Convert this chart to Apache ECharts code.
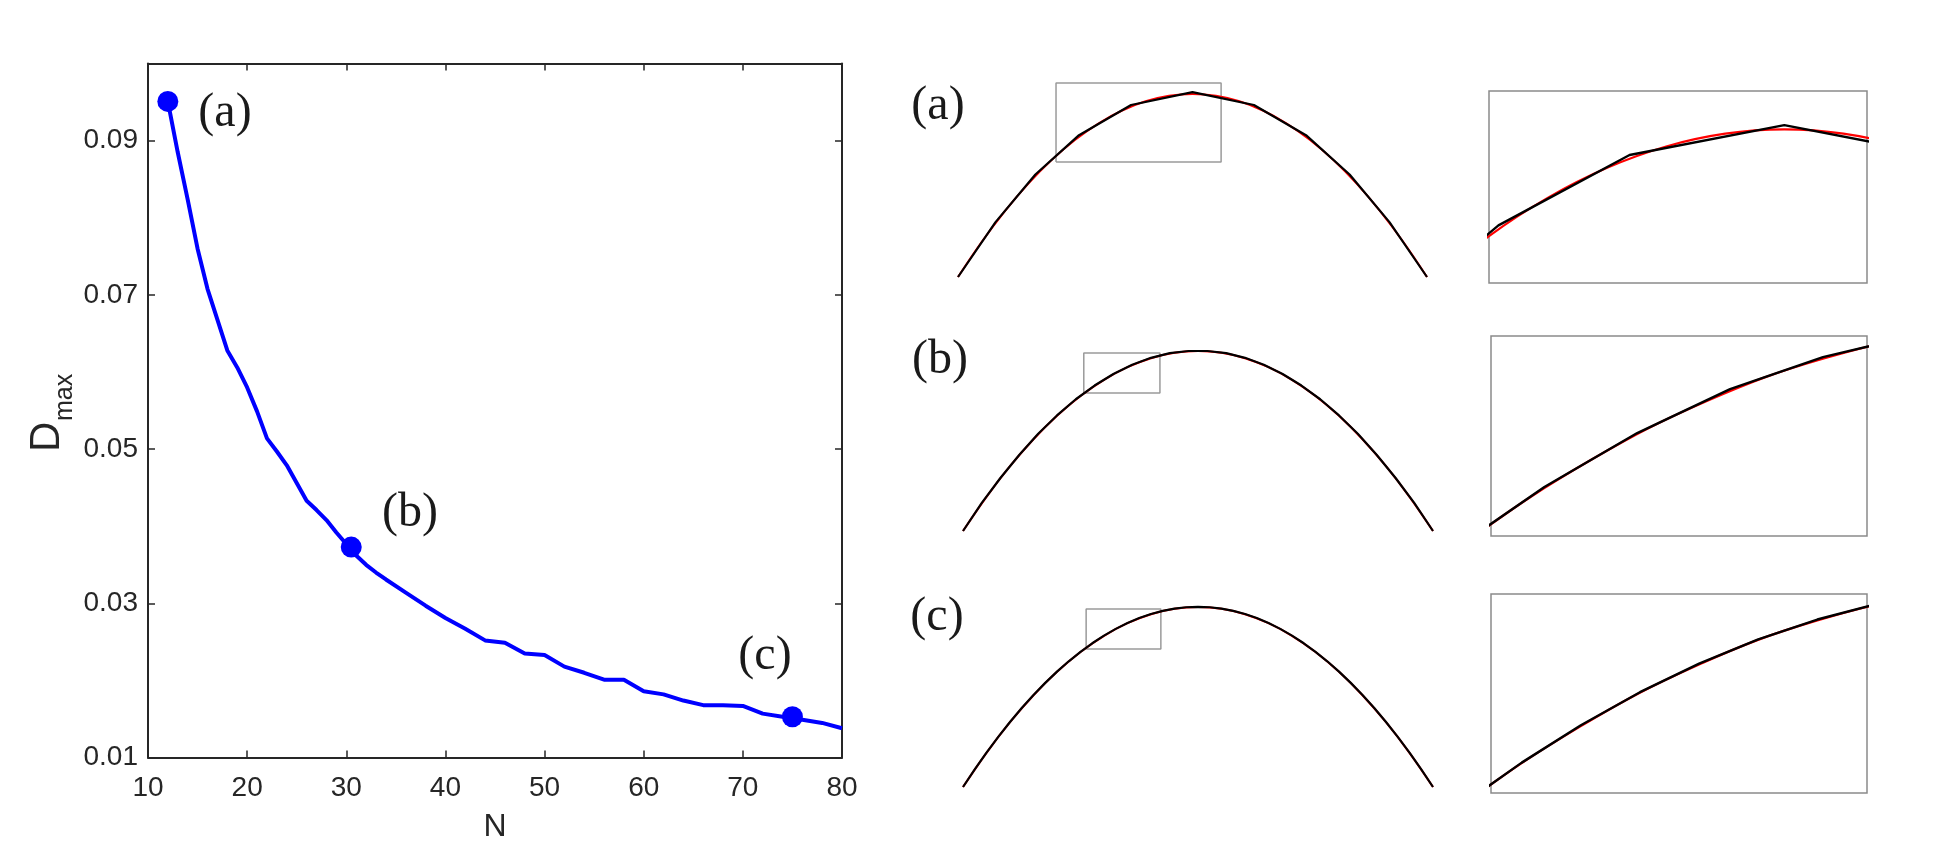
<!DOCTYPE html>
<html>
<head>
<meta charset="utf-8">
<script src="https://cdn.jsdelivr.net/npm/echarts@6/dist/echarts.min.js"></script>
<style>
html,body{margin:0;padding:0;background:#fff;}
#chart{width:1938px;height:855px;}
</style>
</head>
<body>
<div id="chart"></div>
<script>
// ---------- Left panel: D_max versus N ----------
const nValues = [12,13,14,15,16,17,18,19,20,21,22,23,24,25,26,27,28,29,30,31,32,33,34,36,38,40,42,44,46,48,50,52,54,56,58,60,62,64,66,68,70,72,74,76,78,80];
const dmaxValues = [0.0951,0.0885,0.0824,0.0760,0.0708,0.0668,0.0628,0.0606,0.0580,0.0549,0.0514,0.0497,0.0479,0.0456,0.0433,0.0421,0.0408,0.0392,0.0377,0.0362,0.0350,0.0340,0.0331,0.0314,0.0297,0.0281,0.0267,0.0252,0.0249,0.0235,0.0233,0.0218,0.0210,0.0201,0.0201,0.0186,0.0182,0.0174,0.0168,0.0168,0.0167,0.0157,0.0153,0.0149,0.0145,0.0138];
const markerN = [12, 30.5, 75];
const markerD = [0.0951, 0.0373, 0.0153];
const panelLabels = ['(a)', '(b)', '(c)'];

// ---------- Right panels: reference arch (red) and polyline approximations (black) ----------
const refU = [0,0.05,0.10,0.15,0.20,0.25,0.30,0.35,0.40,0.45,0.50,0.55,0.60,0.65,0.70,0.75,0.80,0.85,0.90,0.95,1.00];
const refV = [0,0.19,0.36,0.51,0.64,0.75,0.84,0.91,0.96,0.99,1.00,0.99,0.96,0.91,0.84,0.75,0.64,0.51,0.36,0.19,0];

const polyAU = [0,0.08,0.165,0.258,0.369,0.5,0.631,0.742,0.835,0.92,1];
const polyAV = [0,0.30,0.56,0.775,0.94,1.01,0.94,0.775,0.56,0.30,0];

const polyBU = [0,0.04,0.08,0.12,0.16,0.20,0.24,0.28,0.32,0.36,0.40,0.44,0.48,0.52,0.56,0.60,0.64,0.68,0.72,0.76,0.80,0.84,0.88,0.92,0.96,1.00];
const polyBV = [0,0.156,0.296,0.424,0.540,0.642,0.732,0.808,0.872,0.924,0.962,0.988,1.000,1.000,0.988,0.962,0.924,0.872,0.808,0.732,0.642,0.540,0.424,0.296,0.156,0];

const polyCU = [0,0.025,0.05,0.075,0.1,0.125,0.15,0.175,0.2,0.225,0.25,0.275,0.3,0.325,0.35,0.375,0.4,0.425,0.45,0.475,0.5,0.525,0.55,0.575,0.6,0.625,0.65,0.675,0.7,0.725,0.75,0.775,0.8,0.825,0.85,0.875,0.9,0.925,0.95,0.975,1];
const polyCV = [0,0.0985,0.191,0.2785,0.361,0.4385,0.511,0.5785,0.641,0.6985,0.751,0.7985,0.841,0.8785,0.911,0.9385,0.961,0.9785,0.991,0.9985,1.001,0.9985,0.991,0.9785,0.961,0.9385,0.911,0.8785,0.841,0.7985,0.751,0.6985,0.641,0.5785,0.511,0.4385,0.361,0.2785,0.191,0.0985,0];

// zoom rectangles [u0, u1, v0, v1] drawn on each arch
const rectA = [0.209, 0.561, 0.628, 1.06];
const rectB = [0.257, 0.419, 0.767, 0.989];
const rectC = [0.262, 0.421, 0.767, 0.989];
// inset view limits [u0, u1, v0, v1]
const viewA = [0.25, 0.57, 0.64, 1.09];
const viewB = [0.257, 0.419, 0.75, 0.987];
const viewC = [0.262, 0.421, 0.764, 0.99];

const zip = (a, b) => a.map((x, i) => [x, b[i]]);
const rectPath = r => [[r[0], r[2]], [r[1], r[2]], [r[1], r[3]], [r[0], r[3]], [r[0], r[2]]];

const axisColor = '#262626';
const sans = 'Liberation Sans';

const chart = echarts.init(document.getElementById('chart'), null, {renderer: 'canvas'});

const hiddenAxis = (gi, min, max) => ({gridIndex: gi, type: 'value', min: min, max: max, show: false, splitLine: {show: false}});

const grids = [
  {left: 148, top: 63.6, width: 694, height: 694},
  {left: 958, top: 75.7, width: 469, height: 201.3},
  {left: 963, top: 333, width: 470, height: 198},
  {left: 963, top: 589, width: 470, height: 198},
  {left: 1489, top: 91, width: 378, height: 192, show: true, borderColor: '#8a8a8a', borderWidth: 1.5, backgroundColor: 'transparent'},
  {left: 1491, top: 336, width: 376, height: 200, show: true, borderColor: '#8a8a8a', borderWidth: 1.5, backgroundColor: 'transparent'},
  {left: 1491, top: 594, width: 376, height: 199, show: true, borderColor: '#8a8a8a', borderWidth: 1.5, backgroundColor: 'transparent'}
].map(g => Object.assign({containLabel: false, outerBoundsMode: 'none'}, g));

const mainTick = {show: true, inside: true, length: 7, lineStyle: {color: axisColor, width: 1.5}};
const mainLine = {show: true, onZero: false, lineStyle: {color: axisColor, width: 2}};

const xAxes = [
  {gridIndex: 0, type: 'value', min: 10, max: 80, interval: 10, position: 'bottom',
   axisLine: mainLine, axisTick: mainTick, splitLine: {show: false},
   axisLabel: {color: axisColor, fontFamily: sans, fontSize: 28, margin: 17},
   name: 'N', nameLocation: 'middle', nameGap: 54,
   nameTextStyle: {color: axisColor, fontFamily: sans, fontSize: 32}},
  {gridIndex: 0, type: 'value', min: 10, max: 80, interval: 10, position: 'top',
   axisLine: mainLine, axisTick: mainTick, splitLine: {show: false}, axisLabel: {show: false}},
  hiddenAxis(1, 0, 1), hiddenAxis(2, 0, 1), hiddenAxis(3, 0, 1),
  hiddenAxis(4, viewA[0], viewA[1]), hiddenAxis(5, viewB[0], viewB[1]), hiddenAxis(6, viewC[0], viewC[1])
];
const yAxes = [
  {gridIndex: 0, type: 'value', min: 0.01, max: 0.1, interval: 0.02, position: 'left',
   axisLine: mainLine, axisTick: mainTick, splitLine: {show: false},
   axisLabel: {color: axisColor, fontFamily: sans, fontSize: 28, margin: 10, showMaxLabel: false,
     formatter: v => (Math.abs(v - 0.1) < 1e-9 ? '' : v.toFixed(2))}},
  {gridIndex: 0, type: 'value', min: 0.01, max: 0.1, interval: 0.02, position: 'right',
   axisLine: mainLine, axisTick: mainTick, splitLine: {show: false}, axisLabel: {show: false}},
  hiddenAxis(1, 0, 1.1), hiddenAxis(2, 0, 1.1), hiddenAxis(3, 0, 1.1),
  hiddenAxis(4, viewA[2], viewA[3]), hiddenAxis(5, viewB[2], viewB[3]), hiddenAxis(6, viewC[2], viewC[3])
];

const series = [];
series.push({type: 'line', xAxisIndex: 0, yAxisIndex: 0, data: zip(nValues, dmaxValues),
  showSymbol: false, symbol: 'none', lineStyle: {color: '#0000ff', width: 4}, z: 2});
series.push({type: 'scatter', xAxisIndex: 0, yAxisIndex: 0, data: zip(markerN, markerD),
  symbol: 'circle', symbolSize: 21, itemStyle: {color: '#0000ff', opacity: 1}, z: 3});

const archSets = [
  {poly: zip(polyAU, polyAV), rect: rectA},
  {poly: zip(polyBU, polyBV), rect: rectB},
  {poly: zip(polyCU, polyCV), rect: rectC}
];
archSets.forEach((s, i) => {
  const gi = i + 2; // axis index for arch grids
  series.push({type: 'line', xAxisIndex: gi, yAxisIndex: gi, data: zip(refU, refV), smooth: 0.4,
    symbol: 'none', lineStyle: {color: '#ff0000', width: 2}, z: 2});
  series.push({type: 'line', xAxisIndex: gi, yAxisIndex: gi, data: s.poly,
    symbol: 'none', lineStyle: {color: '#000000', width: 2.2}, z: 3});
  series.push({type: 'line', xAxisIndex: gi, yAxisIndex: gi, data: rectPath(s.rect),
    symbol: 'none', lineStyle: {color: '#9a9a9a', width: 1.5}, z: 1});
  const ii = i + 5; // axis index for inset grids
  series.push({type: 'line', xAxisIndex: ii, yAxisIndex: ii, data: zip(refU, refV), smooth: 0.4,
    symbol: 'none', lineStyle: {color: '#ff0000', width: 2.2}, z: 2});
  series.push({type: 'line', xAxisIndex: ii, yAxisIndex: ii, data: s.poly,
    symbol: 'none', lineStyle: {color: '#000000', width: 2.4}, z: 3});
});

const labelStyle = t => ({text: t, font: '48px "Liberation Serif"', fill: '#1a1a1a', textAlign: 'center', textVerticalAlign: 'middle'});
const graphic = [
  {type: 'text', x: 225, y: 113, style: labelStyle(panelLabels[0])},
  {type: 'text', x: 410, y: 513, style: labelStyle(panelLabels[1])},
  {type: 'text', x: 765, y: 656, style: labelStyle(panelLabels[2])},
  {type: 'text', x: 938, y: 106, style: labelStyle(panelLabels[0])},
  {type: 'text', x: 940, y: 360, style: labelStyle(panelLabels[1])},
  {type: 'text', x: 937, y: 617, style: labelStyle(panelLabels[2])},
  {type: 'text', x: 68, y: 452, rotation: Math.PI / 2,
   style: {text: 'D', font: '42px "Liberation Sans"', fill: axisColor, textAlign: 'left', textVerticalAlign: 'bottom'}},
  {type: 'text', x: 78, y: 421, rotation: Math.PI / 2,
   style: {text: 'max', font: '25px "Liberation Sans"', fill: axisColor, textAlign: 'left', textVerticalAlign: 'bottom'}}
];

chart.setOption({
  animation: false,
  backgroundColor: '#ffffff',
  grid: grids,
  xAxis: xAxes,
  yAxis: yAxes,
  series: series,
  graphic: graphic
});
</script>
</body>
</html>
